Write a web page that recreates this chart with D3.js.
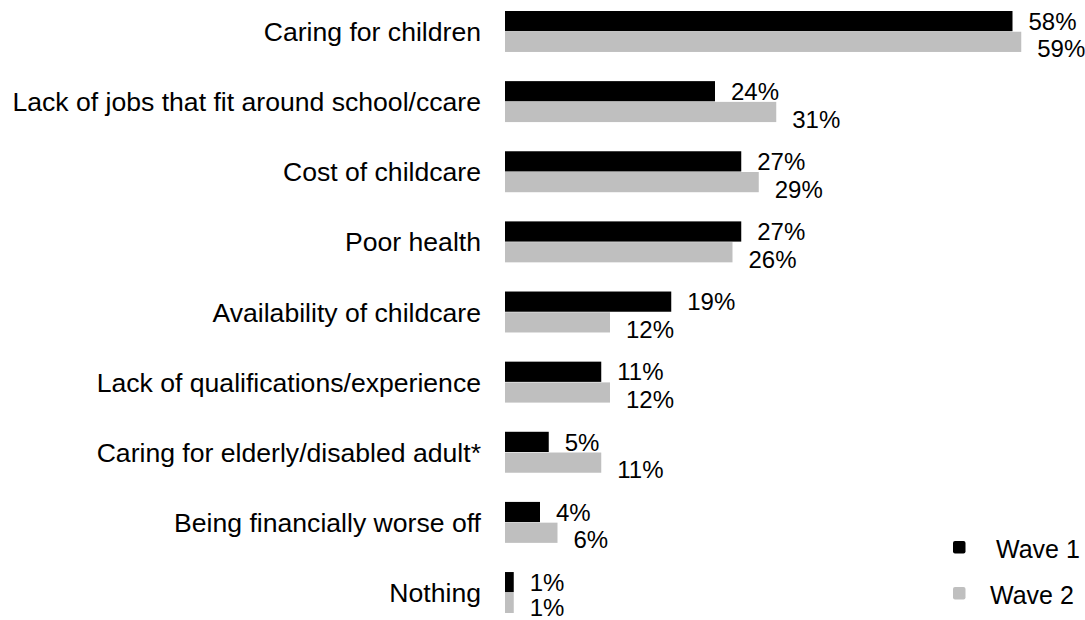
<!DOCTYPE html>
<html>
<head>
<meta charset="utf-8">
<script src="https://cdn.jsdelivr.net/npm/d3@7"></script>
<style>
  html, body { margin: 0; padding: 0; background: #fff; }
  svg { display: block; }
  text { font-family: "Liberation Sans", Arial, sans-serif; fill: #000; }
</style>
</head>
<body>
<svg id="chart" width="1085" height="620"></svg>
<script>
// Reasons for not working, share of respondents (%)
const categories = [
  "Caring for children",
  "Lack of jobs that fit around school/ccare",
  "Cost of childcare",
  "Poor health",
  "Availability of childcare",
  "Lack of qualifications/experience",
  "Caring for elderly/disabled adult*",
  "Being financially worse off",
  "Nothing"
];
const wave1 = [58, 24, 27, 27, 19, 11, 5, 4, 1];
const wave2 = [59, 31, 29, 26, 12, 12, 11, 6, 1];
const seriesNames = ["Wave 1", "Wave 2"];
const seriesColors = ["#000000", "#bfbfbf"];

const svg = d3.select("#chart");
const H = 620;

const barLeft = 505;
const x = d3.scaleLinear().domain([0, 60]).range([barLeft, barLeft + 525]);

const y = d3.scaleBand()
  .domain(categories)
  .range([11, 613])
  .paddingInner(0.416)
  .paddingOuter(0);

const ySub = d3.scaleBand()
  .domain(seriesNames)
  .range([0, y.bandwidth()])
  .paddingInner(0.025);

const rows = categories.map((c, i) => ({ cat: c, values: [wave1[i], wave2[i]] }));

// bars
const g = svg.append("g");
rows.forEach(r => {
  r.values.forEach((v, s) => {
    g.append("rect")
      .attr("x", x(0))
      .attr("y", y(r.cat) + ySub(seriesNames[s]))
      .attr("width", x(v) - x(0))
      .attr("height", ySub.bandwidth())
      .attr("fill", seriesColors[s]);
  });
});

// value labels: Wave 1 beside its bar, Wave 2 dropped slightly below its bar
// (kept inside the bottom edge of the drawing)
rows.forEach(r => {
  r.values.forEach((v, s) => {
    const cy = Math.min(
      y(r.cat) + ySub(seriesNames[s]) + ySub.bandwidth() / 2 + (s === 1 ? 7 : 0),
      H - 13
    );
    g.append("text")
      .attr("x", x(v) + 16)
      .attr("y", cy)
      .attr("dy", "0.36em")
      .attr("font-size", 24)
      .text(v + "%");
  });
});

// category labels, right aligned against the bars
categories.forEach(c => {
  svg.append("text")
    .attr("x", 481)
    .attr("y", y(c) + y.bandwidth() / 2)
    .attr("text-anchor", "end")
    .attr("dy", "0.36em")
    .attr("font-size", 26.6)
    .text(c);
});

// legend
const legend = svg.append("g");
const legendY = [547, 593];
const legendTextX = [996, 990];
seriesNames.forEach((name, s) => {
  legend.append("rect")
    .attr("x", 953)
    .attr("y", legendY[s] - 6)
    .attr("width", 12.5)
    .attr("height", 12.5)
    .attr("rx", 2)
    .attr("fill", seriesColors[s]);
  legend.append("text")
    .attr("x", legendTextX[s])
    .attr("y", legendY[s] + 2)
    .attr("dy", "0.36em")
    .attr("font-size", 25)
    .text(name);
});
</script>
</body>
</html>
